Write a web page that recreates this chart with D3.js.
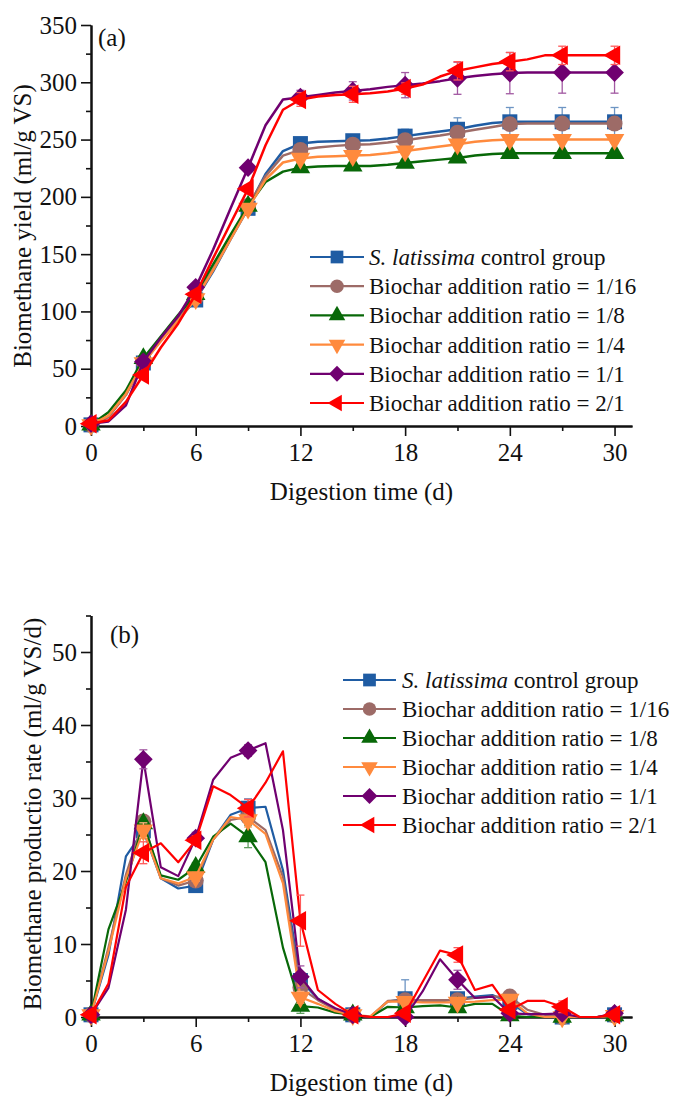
<!DOCTYPE html>
<html><head><meta charset="utf-8">
<script src="https://cdn.jsdelivr.net/npm/d3@7"></script>
<style>
body{margin:0;background:#fff}
svg{display:block}
text{font-family:"Liberation Serif","Times New Roman",serif;fill:#111}
</style>
</head><body><svg id="c" width="675" height="1097"></svg>
<script>
// ---------- DATA ----------
const days = [0,1,2,3,4,5,6,7,8,9,10,11,12,13,14,15,16,17,18,19,20,21,22,23,24,25,26,27,28,29,30];
const markerDays = [0,3,6,9,12,15,18,21,24,27,30];
const seriesNames = ["S. latissima control group","Biochar addition ratio = 1/16","Biochar addition ratio = 1/8","Biochar addition ratio = 1/4","Biochar addition ratio = 1/1","Biochar addition ratio = 2/1"];
const xTicksMajor = [0,6,12,18,24,30];
const xTicksMinor = [3,9,15,21,27];
const yTicksA = [0,50,100,150,200,250,300,350];
const yTicksAMinor = [25,75,125,175,225,275,325];
const yTicksB = [0,10,20,30,40,50];
const yTicksBMinor = [5,15,25,35,45,55];

// (a) cumulative biomethane yield (ml/g VS), daily
const yieldControl = [1,8,28,55,75,93,110,135,163,190,220,240,246.5,248,248.5,249,249.5,251,253,255,257,259,262,264.5,265.5,265.5,265.5,265.5,265.5,265.5,265.5];
const yield116 = [1,8,27,56,75,93.5,112,137,164,192,218,236,241,243,244.5,245.5,246,247.5,249.5,251.5,253.5,256,258.5,261,263.5,264,264,264,264,264,264];
const yield18 = [1,12,31,59,78,97,115,141,167,192,213,222,225.5,226.5,227,227,227,228,229.5,231,232.5,234,236,237.5,238,238,238,238,238,238,238];
const yield14 = [1,9,28,55,74,92,111,136,163,190,215,230,233.5,235,235.5,236,236.5,238,240,242,244,246,248,249.5,250,250,250,250,250,250,250];
const yield11 = [2,4,18,56,77,96,121,154,190,225.5,262.5,285,287,289,291,292.5,294,296,297.5,299,301,303.5,305.5,307,308,308.5,308.5,308.5,308.5,308.5,308.5];
const yield21 = [2,5,21,44.5,68.5,89.5,115,146.5,177,207,245,276,285,287.5,289,289.5,290.5,292,294.5,298,305,310,313,316,318,320,323.5,323.5,323.5,323.5,323.5];
// error bars at marker days
const errYControl = [0.5,2,3,3,3,3,6,10,12.5,12.5,12.5];
const errY116 = [0.5,2,3,3,4,4,4,5,5,5,5];
const errY18 = [0.5,2,3,2,2.5,2,2,2,2,2,2];
const errY14 = [0.5,2,4,3,3,3,3,3,3,3,3];
const errY11 = [0.5,2,3,3,6,8,11,14,18,18,18];
const errY21 = [0.5,3,3,3,6,7,5,8,8,8,8];

// (b) biomethane production rate (ml/g VS/d), daily
const rateControl = [0.3,8.5,22,25.5,19,17.6,18,24.3,27.7,28.6,28.8,20.1,5,2.5,1.0,0.3,0,2.1,2.5,2.2,2.1,2.5,2.8,3.0,2.0,0.4,0,0,0,0,0.3];
const rate116 = [0.3,9.5,19.5,26.8,19,18,18.7,24.3,27,27.4,25.6,19.2,4,2.3,1,0.3,0,2.2,2.3,2.3,2.3,2.3,2.6,2.8,2.8,1,0.3,0,0,0,0.2];
const rate18 = [0.3,12,18.5,26.5,19.4,18.8,20.5,24.7,26.5,24.7,21.2,9.5,1.5,1.3,0.6,0.3,0,1.4,1.3,1.5,1.6,1.3,1.8,1.8,0.2,0,0,0,0,0,0.2];
const rate14 = [0.3,9,19,25.6,19,18.3,19.2,24.3,27.4,27,25.1,18.3,2.7,1.8,0.8,0.3,0.1,2.1,2.1,2.0,2.0,2.0,2.1,2.3,2.4,0.5,0,0,0,0,0.2];
const rate11 = [0.3,4,14.7,35.3,20.5,19.3,24.5,32.5,35.5,36.5,37.5,25.6,5.5,2.5,1.2,0.3,0,0,0,3.5,7.9,5.1,2.6,2.8,0.5,0.4,0.4,0.5,0,0,0.5];
const rate21 = [0.3,4.6,17.8,22.5,23.8,21.2,24.2,31.6,30.4,28.6,32.1,36.4,13.2,3.7,1.8,0.3,0,0,0.5,4.8,9.1,8.5,3.7,4.4,1.0,2.2,2.2,1.4,0,0,0.3];
const errRControl = [0.2,0.5,0.5,1.3,0.8,0.2,2.6,0.6,0.8,0.2,0.2];
const errR116 = [0.2,0.8,0.5,1.0,0.8,0.2,0.4,0.4,0.6,0.2,0.2];
const errR18 = [0.2,0.8,0.6,1.5,1.0,0.2,0.4,0.4,0.3,0.2,0.2];
const errR14 = [0.2,1.0,0.6,1.0,0.8,0.2,0.4,0.4,0.6,0.2,0.2];
const errR11 = [0.2,1.3,0.8,0.8,1.5,0.2,0.2,1.3,0.3,0.3,0.2];
const errR21 = [0.2,1.5,0.6,1.2,3.5,0.2,0.3,1.0,0.4,0.8,0.2];

// ---------- STYLE ----------
const colors = ["#1f5ca3","#9d6b67","#086808","#ff8a3d","#700070","#ff0000"];
const shapes = [
  {sym:d3.symbolSquare, rot:0, area:225},
  {sym:d3.symbolCircle, rot:0, area:200},
  {sym:d3.symbolTriangle, rot:0, area:165},
  {sym:d3.symbolTriangle, rot:180, area:165},
  {sym:d3.symbolSquare, rot:45, area:175},
  {sym:d3.symbolTriangle, rot:-90, area:165}
];

const svg = d3.select("#c");
const x = d3.scaleLinear().domain([0,31]).range([91,632]);

function drawPanel(cfg){
  const y = d3.scaleLinear().domain(cfg.yDomain).range(cfg.yRange);
  const g = svg.append("g");
  const y0 = cfg.yRange[0];

  const xMaj = d3.axisBottom(x).tickValues(xTicksMajor).tickSize(10).tickSizeOuter(0).tickPadding(6);
  const xMin = d3.axisBottom(x).tickValues(xTicksMinor).tickSize(5).tickSizeOuter(0).tickFormat("");
  const yMaj = d3.axisLeft(y).tickValues(cfg.yMajor).tickSize(10).tickSizeOuter(0).tickPadding(4);
  const yMin = d3.axisLeft(y).tickValues(cfg.yMinor).tickSize(5).tickSizeOuter(0).tickFormat("");

  const gx = g.append("g").attr("transform",`translate(0,${y0})`).call(xMaj);
  g.append("g").attr("transform",`translate(0,${y0})`).call(xMin);
  const gy = g.append("g").attr("transform",`translate(91,0)`).call(yMaj);
  g.append("g").attr("transform",`translate(91,0)`).call(yMin);
  g.selectAll(".domain").attr("stroke","#111").attr("stroke-width",2);
  g.selectAll(".tick line").attr("stroke","#111").attr("stroke-width",1.6);
  gx.selectAll(".tick text").attr("font-size",25).attr("font-family","Liberation Serif").attr("fill","#111").attr("dy","0.75em");
  gy.selectAll(".tick text").attr("font-size",25).attr("font-family","Liberation Serif").attr("fill","#111");

  cfg.series.forEach((s,i)=>{
    const col = colors[i];
    const line = d3.line().x((d,k)=>x(days[k])).y(d=>y(d));
    g.append("path").datum(s.vals).attr("d",line).attr("fill","none")
      .attr("stroke",col).attr("stroke-width",cfg.lw).attr("stroke-linejoin","round");
    const ecol = d3.interpolateRgb(col,"#ffffff")(0.35);
    const eg = g.append("g").attr("stroke",ecol).attr("stroke-width",1.3);
    markerDays.forEach((md,k)=>{
      const v = s.vals[days.indexOf(md)], e = s.err[k];
      const px = x(md);
      eg.append("line").attr("x1",px).attr("x2",px).attr("y1",y(v-e)).attr("y2",y(v+e));
      eg.append("line").attr("x1",px-4).attr("x2",px+4).attr("y1",y(v-e)).attr("y2",y(v-e));
      eg.append("line").attr("x1",px-4).attr("x2",px+4).attr("y1",y(v+e)).attr("y2",y(v+e));
    });
    const sh = shapes[i];
    g.append("g").selectAll("path").data(markerDays).join("path")
      .attr("d",d3.symbol().type(sh.sym).size(sh.area))
      .attr("transform",md=>`translate(${x(md)},${y(s.vals[days.indexOf(md)])}) rotate(${sh.rot})`)
      .attr("fill",col);
  });

  seriesNames.forEach((name,i)=>{
    const ly = cfg.legY + i*cfg.legStep;
    const lg = g.append("g");
    lg.append("line").attr("x1",cfg.legX1).attr("x2",cfg.legX2).attr("y1",ly).attr("y2",ly)
      .attr("stroke",colors[i]).attr("stroke-width",2.2);
    const sh = shapes[i];
    lg.append("path").attr("d",d3.symbol().type(sh.sym).size(sh.area*0.72)())
      .attr("transform",`translate(${(cfg.legX1+cfg.legX2)/2},${ly}) rotate(${sh.rot})`)
      .attr("fill",colors[i]);
    const t = lg.append("text").attr("x",cfg.legText).attr("y",ly+8).attr("font-size",23);
    if(i===0){
      t.append("tspan").attr("font-style","italic").text("S. latissima");
      t.append("tspan").text(" control group");
    } else t.text(name);
  });

  g.append("text").attr("x",cfg.tagX).attr("y",cfg.tagY).attr("font-size",25).text(cfg.tag);
  g.append("text").attr("x",(x(0)+x(31))/2).attr("y",cfg.xTitleY).attr("text-anchor","middle")
    .attr("font-size",25).text("Digestion time (d)");
  g.append("text").attr("transform",`translate(${cfg.yTitleX},${cfg.yTitleC}) rotate(-90)`)
    .attr("text-anchor","middle").attr("font-size",25).text(cfg.yTitle);
}

drawPanel({
  yDomain:[0,350], yRange:[426,25], yMajor:yTicksA, yMinor:yTicksAMinor,
  series:[
    {vals:yieldControl, err:errYControl},{vals:yield116, err:errY116},{vals:yield18, err:errY18},
    {vals:yield14, err:errY14},{vals:yield11, err:errY11},{vals:yield21, err:errY21}],
  legY:257, legStep:29.2, legX1:310, legX2:364, legText:369, lw:2.5,
  tag:"(a)", tagX:98, tagY:46, xTitleY:500, yTitleX:31, yTitleC:226,
  yTitle:"Biomethane yield (ml/g VS)"
});
drawPanel({
  yDomain:[0,55], yRange:[1017,615.5], yMajor:yTicksB, yMinor:yTicksBMinor,
  series:[
    {vals:rateControl, err:errRControl},{vals:rate116, err:errR116},{vals:rate18, err:errR18},
    {vals:rate14, err:errR14},{vals:rate11, err:errR11},{vals:rate21, err:errR21}],
  legY:680, legStep:29, legX1:343, legX2:396, legText:402, lw:2.2,
  tag:"(b)", tagX:110, tagY:643, xTitleY:1091, yTitleX:41, yTitleC:814,
  yTitle:"Biomethane productio rate (ml/g VS/d)"
});
</script>
</body></html>
